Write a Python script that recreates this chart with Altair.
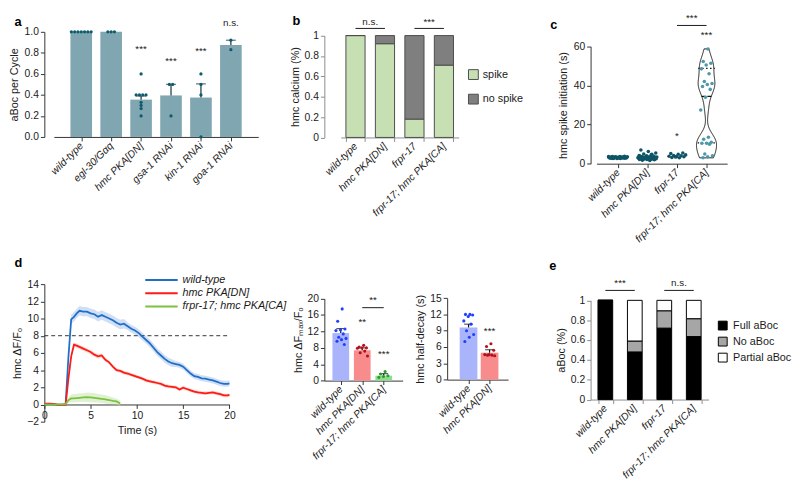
import altair as alt
import pandas as pd

FONT = "Liberation Sans"
INK = "#1a1a1a"
AXC = "#333333"
AXG = "#8c8c8c"

# ---------------- data: panel a ----------------
a_cats = ["wild-type", "egl-30/Gαq", "hmc PKA[DN]", "gsa-1 RNAi", "kin-1 RNAi", "goa-1 RNAi"]
a_mean = [1.0, 1.0, 0.355, 0.395, 0.375, 0.875]
a_upper = [1.0, 1.0, 0.39, 0.50, 0.505, 0.92]
a_dot_idx = [0, 0, 0, 0, 0, 0, 0, 1, 1, 1, 2, 2, 2, 2, 2, 2, 2, 2, 2, 3, 3, 3, 4, 4, 4, 4, 5, 5]
a_dot_val = [1.0, 1.0, 1.0, 1.0, 1.0, 1.0, 1.0, 1.0, 1.0, 1.0,
             0.6, 0.4, 0.4, 0.4, 0.4, 0.33, 0.3, 0.27, 0.2,
             0.5, 0.5, 0.2,
             0.6, 0.5, 0.4, 0.0,
             0.92, 0.83]
a_sig_idx = [2, 3, 4, 5]
a_sig_y = [0.84, 0.72, 0.82, 1.08]
a_sig_txt = ["***", "***", "***", "n.s."]

# ---------------- data: panel b ----------------
b_cats = ["wild-type", "hmc PKA[DN]", "frpr-17", "frpr-17; hmc PKA[CA]"]
b_status = ["spike", "no spike"]
b_spike = [1.0, 0.92, 0.18, 0.71]
b_nospike = [0.0, 0.08, 0.82, 0.29]
b_sig_c1 = ["wild-type", "frpr-17"]
b_sig_c2 = ["hmc PKA[DN]", "frpr-17; hmc PKA[CA]"]
b_sig_line = [1.07, 1.07]
b_sig_ty = [1.13, 1.13]
b_sig_txt = ["n.s.", "***"]

# ---------------- data: panel c ----------------
c_cats = ["wild-type", "hmc PKA[DN]", "frpr-17", "frpr-17; hmc PKA[CA]"]
c_wt = [2.6, 2.7, 2.8, 2.8, 2.9, 2.9, 3.0, 3.0, 3.0, 3.1, 3.1, 3.1, 3.2, 3.2, 3.2, 3.3, 3.3,
        3.4, 3.4, 3.5, 3.5, 3.6, 3.7, 3.8, 2.7, 3.0, 3.3, 2.9, 3.1, 3.2, 2.8, 3.0, 3.4, 3.6]
c_dn = [1.6, 1.8, 2.0, 2.1, 2.2, 2.3, 2.4, 2.5, 2.5, 2.6, 2.7, 2.8, 2.8, 2.9, 3.0, 3.0, 3.1,
        3.1, 3.2, 3.3, 3.4, 3.5, 3.6, 3.8, 4.0, 4.2, 4.5, 5.0, 5.5, 6.2, 7.0, 2.6, 2.9, 3.2,
        2.4, 3.0, 2.7, 3.4, 3.9, 4.8]
c_fr = [3.0, 3.2, 3.5, 3.6, 3.8, 4.0, 4.2, 4.5, 4.8, 5.2, 5.5, 3.4]
c_ca = [58.7, 52.3, 51.4, 50.5, 48.5, 46.0, 42.0, 41.0, 40.5, 39.5, 38.0, 34.0, 27.5,
        13.5, 12.5, 11.0, 10.5, 10.5, 10.0, 5.0, 4.0, 3.5, 3.0]
c_quart = [10.6, 48.7]
c_quart_half = [0.3, 0.28]
c_median = [34.4]
c_median_half = [0.17]
c_sig_g = [2, 3, 2.5]
c_sig_y = [14.3, 65.8, 74.6]
c_sig_txt = ["*", "***", "***"]
c_line_g1 = [2]
c_line_g2 = [3]
c_line_y = [70.7]

# ---------------- data: panel d (time course) ----------------
d_series = ["wild-type", "hmc PKA[DN]", "frpr-17; hmc PKA[CA]"]
d_t = [0, 0.5, 1.0, 1.5, 2.0, 2.3, 2.6, 2.9, 3.2, 3.5, 3.8, 4.2, 4.6, 5.0, 5.4, 5.8, 6.2, 6.6,
       7.0, 7.4, 7.8, 8.2, 8.6, 9.0, 9.4, 9.8, 10.2, 10.6, 11.0, 11.4, 11.8, 12.2, 12.6, 13.0,
       13.4, 13.8, 14.2, 14.6, 15.0, 15.4, 15.8, 16.2, 16.6, 17.0, 17.4, 17.8, 18.2, 18.6,
       19.0, 19.4, 19.8, 20.0]
d_wt = [0.0, 0.02, 0.0, -0.03, 0.0, 0.05, 5.5, 9.9, 10.2, 10.6, 10.9, 10.8, 10.8, 10.6, 10.5,
        10.2, 10.4, 10.2, 10.0, 9.8, 9.5, 9.3, 9.4, 9.1, 8.8, 8.6, 8.3, 7.9, 7.5, 7.1, 6.6, 6.1,
        5.7, 5.3, 5.0, 4.8, 4.7, 4.6, 4.4, 4.0, 3.6, 3.3, 3.2, 3.05, 3.0, 2.9, 2.8, 2.65, 2.5,
        2.4, 2.4, 2.45]
d_wt_err = [0.1, 0.1, 0.1, 0.1, 0.1, 0.1, 0.4, 0.55, 0.55, 0.55, 0.55, 0.55, 0.55, 0.55, 0.55,
            0.55, 0.55, 0.55, 0.55, 0.55, 0.55, 0.55, 0.55, 0.45, 0.45, 0.45, 0.45, 0.45, 0.45,
            0.45, 0.45, 0.45, 0.45, 0.45, 0.45, 0.45, 0.35, 0.35, 0.35, 0.35, 0.35, 0.35, 0.35,
            0.35, 0.35, 0.35, 0.35, 0.35, 0.35, 0.35, 0.35, 0.35]
d_dn = [0.1, 0.1, 0.08, -0.05, -0.05, -0.05, 3.0, 5.6, 6.95, 6.85, 6.7, 6.5, 6.3, 6.1, 5.8,
        5.6, 5.7, 5.2, 4.9, 4.4, 4.0, 3.9, 3.7, 3.6, 3.45, 3.3, 3.15, 3.0, 2.8, 2.7, 2.6, 2.5,
        2.4, 2.2, 2.1, 2.05, 2.0, 1.75, 1.95, 1.8, 1.65, 1.5, 1.4, 1.35, 1.3, 1.35, 1.4, 1.3,
        1.2, 1.05, 1.05, 1.12]
d_dn_err = [0.05, 0.05, 0.05, 0.05, 0.05, 0.05, 0.2, 0.25, 0.25, 0.25, 0.25, 0.25, 0.25, 0.25,
            0.25, 0.25, 0.25, 0.2, 0.2, 0.2, 0.2, 0.2, 0.2, 0.2, 0.2, 0.2, 0.2, 0.2, 0.2, 0.2,
            0.2, 0.2, 0.2, 0.2, 0.2, 0.2, 0.2, 0.2, 0.2, 0.2, 0.2, 0.2, 0.2, 0.2, 0.2, 0.2, 0.2,
            0.2, 0.2, 0.2, 0.2, 0.2]
d_ca_t = [0, 0.5, 1.0, 1.5, 2.0, 2.3, 2.6, 2.9, 3.2, 3.5, 3.8, 4.2, 4.6, 5.0, 5.4, 5.8, 6.2,
          6.6, 7.0, 7.4, 7.8, 8.2]
d_ca = [0.0, -0.03, -0.02, 0.0, 0.02, 0.05, 0.5, 0.7, 0.72, 0.75, 0.78, 0.82, 0.85, 0.82, 0.78,
        0.72, 0.66, 0.6, 0.52, 0.42, 0.35, 0.12]
d_ca_err = [0.05, 0.05, 0.05, 0.05, 0.05, 0.05, 0.3, 0.45, 0.5, 0.5, 0.5, 0.5, 0.55, 0.55, 0.55,
            0.5, 0.5, 0.5, 0.45, 0.4, 0.35, 0.3]
d_thresh = [8.0]
d_thresh_x = [0.0, 20.0]

# ---------------- data: panel d (peak bars) ----------------
d1_cats = ["wild-type", "hmc PKA[DN]", "frpr-17; hmc PKA[CA]"]
d1_mean = [11.6, 7.4, 1.2]
d1_up = [12.7, 8.0, 1.7]
d1_dot_idx = [0] * 11 + [1] * 8 + [2] * 5
d1_dot_val = [17.5, 14.5, 12.6, 12.4, 12.2, 11.4, 10.6, 10.3, 10.0, 9.6, 8.8,
              8.6, 8.2, 8.0, 8.0, 7.9, 7.2, 6.8, 6.0,
              2.2, 1.6, 1.2, 1.0, 0.8]
d1_sig_x = [1, 2, 1.5]
d1_sig_y = [14.4, 6.4, 19.6]
d1_sig_txt = ["**", "***", "**"]
d1_line = [1, 2, 17.8]

# ---------------- data: panel d (half-decay bars) ----------------
d2_cats = ["wild-type", "hmc PKA[DN]"]
d2_mean = [9.6, 4.95]
d2_up = [10.2, 5.5]
d2_dot_idx = [0] * 10 + [1] * 8
d2_dot_val = [12.0, 12.0, 11.9, 11.6, 10.8, 10.2, 9.0, 8.3, 7.8, 7.0,
              6.6, 6.1, 5.4, 4.6, 4.6, 4.5, 4.5, 4.4]
d2_sig_x = [1]
d2_sig_y = [8.9]
d2_sig_txt = ["***"]

# ---------------- data: panel e ----------------
e_cats = ["wild-type", "hmc PKA[DN]", "frpr-17", "frpr-17; hmc PKA[CA]"]
e_status = ["Full aBoc", "No aBoc", "Partial aBoc"]
e_full = [1.0, 0.48, 0.72, 0.635]
e_no = [0.0, 0.11, 0.175, 0.18]
e_partial = [0.0, 0.41, 0.105, 0.185]
e_sig_c1 = ["wild-type", "frpr-17"]
e_sig_c2 = ["hmc PKA[DN]", "frpr-17; hmc PKA[CA]"]
e_sig_line = [1.1, 1.1]
e_sig_ty = [1.17, 1.17]
e_sig_txt = ["***", "n.s."]

# ---------------- styles ----------------
A_BAR = "#80a7b1"
A_DOT = "#0f5b6e"
A_ERR = "#23414c"
B_COLORS = ["#c6e0b4", "#7f7f7f"]
C_DOTS = ["#0d5467", "#4f97aa"]
D_LINE = ["#1f6fc6", "#ff1a1a", "#7cc242"]
D_BAND = ["#a9c4ee", "#f9b9a0", "#c4e6ad"]
D_BAR = ["#aab4fa", "#f88b8b", "#8fdc8f"]
D_DOT = ["#1f3fff", "#b3121b", "#2a9d2a"]
E_COLORS = ["#000000", "#a6a6a6", "#ffffff"]


def names_expr(names):
    return "[" + ",".join("'%s'" % n for n in names) + "][round(datum.value)]"


def qx(field, names, domain, rng=None):
    sc = dict(domain=domain, nice=False, zero=False)
    if rng is not None:
        sc["range"] = rng
    return alt.X(field + ":Q", scale=alt.Scale(**sc), axis=alt.Axis(
        values=list(range(len(names))), labelExpr=names_expr(names), title=None,
        labelAngle=-45, labelAlign="right", labelBaseline="middle",
        labelFontStyle="italic", labelFlush=False, labelOverlap=False, labelPadding=3))


def nx(field, names, pin, pout, rng):
    return alt.X(field + ":N", scale=alt.Scale(domain=names, paddingInner=pin, paddingOuter=pout,
                                              range=rng),
                 axis=alt.Axis(title=None, labelAngle=-45, labelAlign="right",
                               labelBaseline="middle", labelFontStyle="italic",
                               tickBand="extent", domainColor=AXG, tickColor=AXG,
                               labelPadding=3, labelOverlap=False))


def qy(field, domain, rng, values, title, fmt="d", tpad=4, grey=False, stack=None):
    sc = dict(domain=domain, nice=False, zero=False)
    if rng is not None:
        sc["range"] = rng
    ax = dict(values=values, title=title, format=fmt, titlePadding=tpad,
              labelFlush=False, labelOverlap=False)
    if grey:
        ax.update(domainColor=AXG, tickColor=AXG)
    kw = {}
    if stack is not None:
        kw["stack"] = stack
    return alt.Y(field + ":Q", scale=alt.Scale(**sc), axis=alt.Axis(**ax), **kw)


def ptitle(letter, dx, dy=0):
    return alt.TitleParams(text=letter, anchor="start", frame="group", dx=dx, dy=dy, offset=2,
                           fontSize=13, fontWeight="bold", font=FONT, color="#000000")


# grid geometry (column widths, row heights)
COL_W = [285, 124.7, 146, 139]
ROW1_H, ROW2_H = 134.2, 140

# ================= panel a =================
ax_a = lambda f: qx(f, a_cats, [-0.75, 5.75], [9.7, 217.7])
ay_a = lambda f: qy(f, [0, 1], [107, 0], [0, 0.2, 0.4, 0.6, 0.8, 1.0], "aBoc per Cycle",
                    fmt=".1f", tpad=5)

a_bar_df = pd.DataFrame({"i": list(range(len(a_cats))), "m": a_mean, "u": a_upper})
a_err_df = a_bar_df[a_bar_df["u"] > a_bar_df["m"]]
a_dot_df = pd.DataFrame({"i": a_dot_idx, "v": a_dot_val})
a_sig_df = pd.DataFrame({"i": a_sig_idx, "y": a_sig_y, "t": a_sig_txt})

a_bars = alt.Chart(a_bar_df).mark_bar(size=22, color=A_BAR).encode(x=ax_a("i"), y=ay_a("m"))
a_err = alt.Chart(a_err_df).mark_rule(color=A_ERR, strokeWidth=1.3).encode(
    x=ax_a("i"), y=ay_a("m"), y2=alt.Y2("u"))
a_cap = alt.Chart(a_err_df).mark_tick(orient="horizontal", size=10, thickness=1.3, color=A_ERR).encode(
    x=ax_a("i"), y=ay_a("u"))
a_dots = (alt.Chart(a_dot_df)
          .transform_window(r="row_number()", groupby=["i", "v"])
          .transform_joinaggregate(n="count()", groupby=["i", "v"])
          .transform_calculate(xo="datum.i + (datum.r - (datum.n + 1) / 2) * 0.11")
          .mark_circle(size=11, color=A_DOT, opacity=1)
          .encode(x=ax_a("xo"), y=ay_a("v")))
a_sig = alt.Chart(a_sig_df).mark_text(fontSize=10, color=INK).encode(
    x=ax_a("i"), y=ay_a("y"), text="t:N")
panel_a = alt.layer(a_bars, a_err, a_cap, a_dots, a_sig).properties(
    width=COL_W[0], height=107, title=ptitle("a", -30.3, 13))

# ================= panel b =================
bx = lambda f: nx(f, b_cats, 0.35, 0.175, [16.7, 136.7])
by = lambda f, st=None: qy(f, [0, 1], [107.5, 3.8], [0, 0.2, 0.4, 0.6, 0.8, 1.0],
                           "hmc calcium (%)", fmt="~g", grey=True, stack=st)
b_df = pd.DataFrame({
    "c": b_cats + b_cats,
    "s": [b_status[0]] * len(b_cats) + [b_status[1]] * len(b_cats),
    "v": b_spike + b_nospike,
    "k": [0] * len(b_cats) + [1] * len(b_cats),
})
b_sig_df = pd.DataFrame({"c1": b_sig_c1, "c2": b_sig_c2, "y": b_sig_line, "ty": b_sig_ty, "t": b_sig_txt})
b_bars = alt.Chart(b_df).mark_bar(stroke="#4d4d4d", strokeWidth=1).encode(
    x=bx("c"), y=by("v", "zero"),
    color=alt.Color("s:N", scale=alt.Scale(domain=b_status, range=B_COLORS),
                    legend=alt.Legend(title=None, orient="none", legendX=146.2, legendY=38,
                                      symbolType="square", symbolSize=100,
                                      symbolStrokeColor="#4d4d4d", symbolStrokeWidth=1,
                                      symbolOpacity=1, rowPadding=10, labelOffset=4,
                                      labelFontSize=11)),
    order=alt.Order("k:Q"))
b_rule = alt.Chart(b_sig_df).mark_rule(color=INK, strokeWidth=1).encode(
    x=bx("c1"), x2=alt.X2("c2"), y=by("y"))
b_txt = alt.Chart(b_sig_df).mark_text(fontSize=10, color=INK, dx=-15).encode(
    x=bx("c2"), y=by("ty"), text="t:N")
panel_b = alt.layer(b_bars, b_rule, b_txt).properties(
    width=COL_W[1], height=107.5, title=ptitle("b", -32.3, 13))

# ================= spacer (empty grid cell) =================
spacer = alt.Chart(pd.DataFrame({"z": [0]})).mark_point(opacity=0).encode(
    x=alt.value(0), y=alt.value(0)).properties(width=COL_W[2], height=1)

# ================= panel c =================
cx = lambda f: qx(f, c_cats, [-0.73, 3.7], [6, 139])
cy = lambda f: qy(f, [0, 60], [134.2, 14.8], [0, 20, 40, 60], "hmc spike initiation (s)", tpad=5)
c_groups = [c_wt, c_dn, c_fr, c_ca]
c_df = pd.DataFrame([(g, v) for g, vals in enumerate(c_groups) for v in vals], columns=["g", "v"])
c_violin = (alt.Chart(c_df).transform_filter("datum.g == 3")
            .transform_density("v", as_=["v", "dens"], bandwidth=4.2, extent=[3.0, 58.7], steps=150)
            .transform_joinaggregate(mx="max(dens)")
            .transform_calculate(xl="3 - 0.34 * datum.dens / datum.mx")
            .transform_calculate(xr="3 + 0.34 * datum.dens / datum.mx")
            .mark_area(orient="horizontal", fill="#ffffff", fillOpacity=0, stroke="#222222",
                       strokeWidth=1)
            .encode(y=cy("v"), x=cx("xl"), x2=alt.X2("xr")))
c_q_df = pd.DataFrame({"y": c_quart, "h": c_quart_half})
c_m_df = pd.DataFrame({"y": c_median, "h": c_median_half})
c_q = (alt.Chart(c_q_df).transform_calculate(x1="3 - datum.h").transform_calculate(x2="3 + datum.h")
       .mark_rule(color="#111111", strokeWidth=1.3, strokeDash=[1.5, 2.5])
       .encode(y=cy("y"), x=cx("x1"), x2=alt.X2("x2")))
c_m = (alt.Chart(c_m_df).transform_calculate(x1="3 - datum.h").transform_calculate(x2="3 + datum.h")
       .mark_rule(color="#111111", strokeWidth=1.3, strokeDash=[4, 2])
       .encode(y=cy("y"), x=cx("x1"), x2=alt.X2("x2")))
c_dots = (alt.Chart(c_df)
          .transform_window(r="row_number()", groupby=["g"])
          .transform_calculate(w="datum.g == 3 ? 0.42 : 0.66")
          .transform_calculate(xo="datum.g + ((datum.r * 0.618034) % 1 - 0.5) * datum.w")
          .transform_calculate(k="datum.g == 3 ? 'light' : 'dark'")
          .mark_circle(size=13, opacity=1)
          .encode(x=cx("xo"), y=cy("v"),
                  color=alt.Color("k:N", scale=alt.Scale(domain=["dark", "light"], range=C_DOTS),
                                  legend=None)))
c_sig_df = pd.DataFrame({"g": c_sig_g, "y": c_sig_y, "t": c_sig_txt})
c_line_df = pd.DataFrame({"g1": c_line_g1, "g2": c_line_g2, "y": c_line_y})
c_sig = alt.Chart(c_sig_df).mark_text(fontSize=10, color=INK).encode(x=cx("g"), y=cy("y"), text="t:N")
c_rule = alt.Chart(c_line_df).mark_rule(color=INK, strokeWidth=1).encode(
    x=cx("g1"), x2=alt.X2("g2"), y=cy("y"))
panel_c = alt.layer(c_violin, c_q, c_m, c_dots, c_sig, c_rule).properties(
    width=COL_W[3], height=ROW1_H, title=ptitle("c", -41, 21))

# ================= panel d (time course) =================
dlx = lambda f: alt.X(f + ":Q", scale=alt.Scale(domain=[0, 20], range=[0, 188.4], nice=False, zero=False),
                      axis=alt.Axis(values=[0, 5, 10, 15, 20], title="Time (s)", offset=-17.5,
                                    titlePadding=4, labelFlush=False))
dly = lambda f: qy(f, [-2, 14], [140, 0], [-2, 0, 2, 4, 6, 8, 10, 12, 14], "hmc ΔF/F₀", tpad=4)

rows = []
for s, tt, vv, ee in [(d_series[0], d_t, d_wt, d_wt_err), (d_series[1], d_t, d_dn, d_dn_err),
                      (d_series[2], d_ca_t, d_ca, d_ca_err)]:
    for t, v, e in zip(tt, vv, ee):
        rows.append((s, t, v, v - e, v + e))
dl_df = pd.DataFrame(rows, columns=["s", "t", "v", "lo", "hi"])
dl_bands = [
    alt.Chart(dl_df).transform_filter(alt.datum.s == s).mark_area(color=col, opacity=0.55).encode(
        x=dlx("t"), y=dly("lo"), y2=alt.Y2("hi"))
    for s, col in zip(d_series, D_BAND)
]
dl_line = alt.Chart(dl_df).mark_line(strokeWidth=1.8).encode(
    x=dlx("t"), y=dly("v"),
    color=alt.Color("s:N", scale=alt.Scale(domain=d_series, range=D_LINE),
                    legend=alt.Legend(title=None, orient="none", legendX=112.7, legendY=-10.7,
                                      symbolType="M-3,0H3", symbolSize=121, symbolStrokeWidth=2,
                                      labelOffset=15, rowPadding=1.5, labelFontStyle="italic",
                                      labelFontSize=11)))
dl_th_df = pd.DataFrame({"y": d_thresh, "x0": [d_thresh_x[0]], "x1": [d_thresh_x[1]]})
dl_th = alt.Chart(dl_th_df).mark_rule(color="#333333", strokeWidth=1, strokeDash=[4, 3]).encode(
    y=dly("y"), x=dlx("x0"), x2=alt.X2("x1"))
panel_dl = alt.layer(*dl_bands, dl_th, dl_line).properties(
    width=COL_W[0], height=ROW2_H, title=ptitle("d", -30.3, -2))


# ================= bar + dot helper for d panels =================
def bar_dot_panel(cats, means, ups, dot_idx, dot_val, xdom, xr, width, height, yr, ydom, yvals,
                  ytitle, barw, sig_x, sig_y, sig_txt, line=None):
    fx = lambda f: qx(f, cats, xdom, xr)
    fy = lambda f: qy(f, ydom, yr, yvals, ytitle, tpad=4)
    bdf = pd.DataFrame({"i": list(range(len(cats))), "c": cats, "m": means, "u": ups})
    ddf = pd.DataFrame({"i": dot_idx, "v": dot_val, "c": [cats[k] for k in dot_idx]})
    sdf = pd.DataFrame({"i": sig_x, "y": sig_y, "t": sig_txt})
    bars = alt.Chart(bdf).mark_bar(size=barw).encode(
        x=fx("i"), y=fy("m"),
        fill=alt.Fill("c:N", scale=alt.Scale(domain=cats, range=D_BAR[:len(cats)]), legend=None))
    err = alt.Chart(bdf).mark_rule(color="#111111", strokeWidth=1.2).encode(
        x=fx("i"), y=fy("m"), y2=alt.Y2("u"))
    cap = alt.Chart(bdf).mark_tick(orient="horizontal", size=9, thickness=1.2, color="#111111").encode(
        x=fx("i"), y=fy("u"))
    dots = (alt.Chart(ddf)
            .transform_window(r="row_number()", groupby=["i"])
            .transform_calculate(xo="datum.i + ((datum.r * 0.618034) % 1 - 0.5) * 0.55")
            .mark_circle(size=10, opacity=1)
            .encode(x=fx("xo"), y=fy("v"),
                    color=alt.Color("c:N", scale=alt.Scale(domain=cats, range=D_DOT[:len(cats)]),
                                    legend=None)))
    sig = alt.Chart(sdf).mark_text(fontSize=10, color=INK).encode(x=fx("i"), y=fy("y"), text="t:N")
    layers = [bars, err, cap, dots, sig]
    if line is not None:
        ldf = pd.DataFrame({"a": [line[0]], "b": [line[1]], "y": [line[2]]})
        layers.append(alt.Chart(ldf).mark_rule(color=INK, strokeWidth=1).encode(
            x=fx("a"), x2=alt.X2("b"), y=fy("y")))
    return alt.layer(*layers).properties(width=width, height=height)


panel_d1 = bar_dot_panel(d1_cats, d1_mean, d1_up, d1_dot_idx, d1_dot_val, [-0.536, 2.652], [0, 79.7],
                         COL_W[1], 98.2, [98.2, 14.8], [0, 20], [0, 4, 8, 12, 16, 20],
                         "hmc ΔFₘₐₓ/F₀", 17, d1_sig_x, d1_sig_y, d1_sig_txt, line=d1_line)
panel_d2 = bar_dot_panel(d2_cats, d2_mean, d2_up, d2_dot_idx, d2_dot_val, [-0.784, 1.647], [0, 62],
                         COL_W[2], 97.2, [97.2, 14.2], [0, 15], [0, 3, 6, 9, 12, 15],
                         "hmc half-decay (s)", 18, d2_sig_x, d2_sig_y, d2_sig_txt)

# ================= panel e =================
ex = lambda f: nx(f, e_cats, 0.5, 0.25, [0, 120])
ey = lambda f, st=None: qy(f, [0, 1], [117.5, 16.5], [0, 0.2, 0.4, 0.6, 0.8, 1.0], "aBoc (%)",
                           fmt="~g", grey=True, stack=st)
e_df = pd.DataFrame({
    "c": e_cats * 3,
    "s": [e_status[0]] * 4 + [e_status[1]] * 4 + [e_status[2]] * 4,
    "v": e_full + e_no + e_partial,
    "k": [0] * 4 + [1] * 4 + [2] * 4,
})
e_sig_df = pd.DataFrame({"c1": e_sig_c1, "c2": e_sig_c2, "y": e_sig_line, "ty": e_sig_ty, "t": e_sig_txt})
e_bars = alt.Chart(e_df).mark_bar(stroke="#000000", strokeWidth=1).encode(
    x=ex("c"), y=ey("v", "zero"),
    color=alt.Color("s:N", scale=alt.Scale(domain=e_status, range=E_COLORS),
                    legend=alt.Legend(title=None, orient="none", legendX=129, legendY=36.7,
                                      symbolType="square", symbolSize=81,
                                      symbolStrokeColor="#000000", symbolStrokeWidth=1,
                                      symbolOpacity=1, rowPadding=3.3, labelOffset=5,
                                      labelFontSize=11)),
    order=alt.Order("k:Q"))
e_rule = alt.Chart(e_sig_df).mark_rule(color=INK, strokeWidth=1).encode(
    x=ex("c1"), x2=alt.X2("c2"), y=ey("y"))
e_txt = alt.Chart(e_sig_df).mark_text(fontSize=10, color=INK, dx=-15).encode(
    x=ex("c2"), y=ey("ty"), text="t:N")
panel_e = alt.layer(e_bars, e_rule, e_txt).properties(
    width=120, height=117.5, title=ptitle("e", -42, -3.5))

# ================= layout: 4-column grid, flush bounds =================
chart = (alt.concat(panel_a, panel_b, spacer, panel_c,
                    panel_dl, panel_d1, panel_d2, panel_e,
                    columns=4, bounds="flush", align="each",
                    spacing={"row": 283.5 - 27.5 - ROW1_H, "column": 0})
         .resolve_scale(color="independent", fill="independent")
         .properties(padding=0)
         .configure(font=FONT)
         .configure_view(stroke=None)
         .configure_axis(labelFont=FONT, titleFont=FONT, labelFontSize=10.5, titleFontSize=11,
                         titleFontWeight="normal", labelColor=INK, titleColor=INK,
                         domainColor=AXC, tickColor=AXC, tickSize=4, grid=False)
         .configure_legend(labelFont=FONT, labelColor=INK)
         .configure_text(font=FONT))

chart.save("out.html", embed_options={"renderer": "svg", "actions": False})
